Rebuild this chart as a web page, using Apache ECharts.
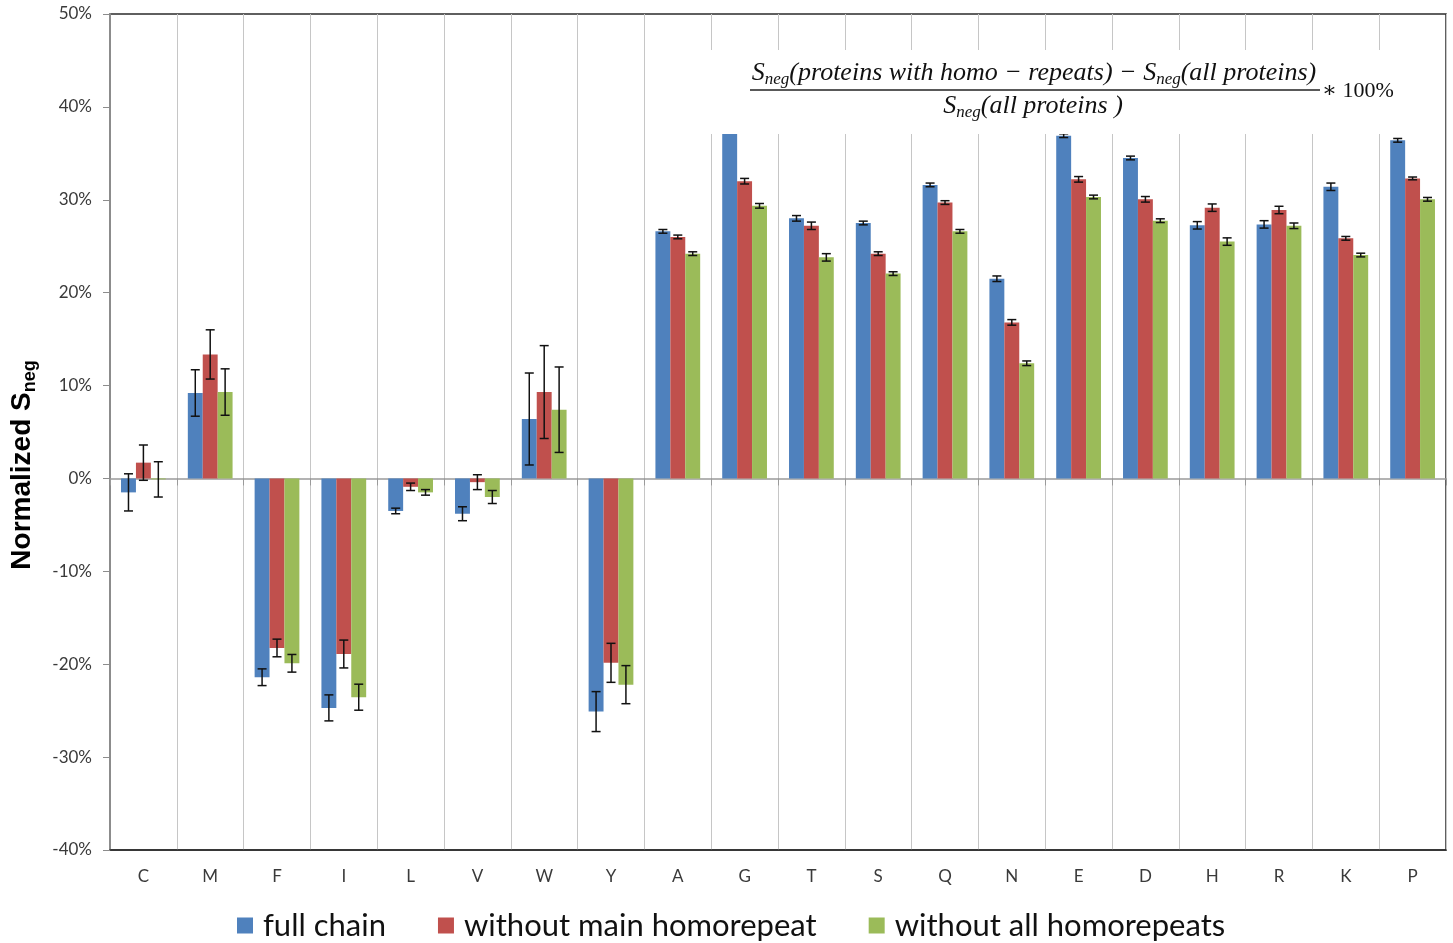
<!DOCTYPE html>
<html>
<head>
<meta charset="utf-8">
<title>Normalized Sneg by amino acid</title>
<script src="https://cdn.jsdelivr.net/npm/echarts@6/dist/echarts.min.js"></script>
<style>
  html, body { margin: 0; padding: 0; background: #fff; }
  #chart { width: 1453px; height: 943px; }
</style>
</head>
<body>
<div id="chart"></div>
<script>
// Amino acids along the x axis
const categories = ['C', 'M', 'F', 'I', 'L', 'V', 'W', 'Y', 'A', 'G', 'T', 'S', 'Q', 'N', 'E', 'D', 'H', 'R', 'K', 'P'];

// Normalized Sneg (%) per amino acid
const fullChain      = [-1.5, 9.2, -21.4, -24.7, -3.5, -3.8, 6.4, -25.1, 26.6, 37.5, 28.0, 27.5, 31.6, 21.5, 36.9, 34.5, 27.25, 27.35, 31.4, 36.4];
const withoutMain    = [1.7, 13.35, -18.25, -18.9, -0.9, -0.4, 9.3, -19.85, 26.0, 32.0, 27.2, 24.2, 29.7, 16.8, 32.2, 30.05, 29.15, 28.9, 25.85, 32.3];
const withoutAll     = [-0.1, 9.3, -19.9, -23.55, -1.5, -2.0, 7.4, -22.2, 24.2, 29.35, 23.8, 22.05, 26.6, 12.4, 30.3, 27.75, 25.5, 27.2, 24.05, 30.05];

// Half-length of the error bars (%)
const fullChainErr   = [2.0, 2.5, 0.9, 1.4, 0.3, 0.75, 4.95, 2.15, 0.2, 0.3, 0.3, 0.2, 0.2, 0.3, 0.2, 0.2, 0.4, 0.4, 0.4, 0.2];
const withoutMainErr = [1.9, 2.65, 0.95, 1.5, 0.4, 0.8, 5.0, 2.1, 0.2, 0.3, 0.4, 0.2, 0.2, 0.3, 0.3, 0.3, 0.4, 0.4, 0.2, 0.15];
const withoutAllErr  = [1.9, 2.5, 0.95, 1.4, 0.3, 0.7, 4.6, 2.05, 0.2, 0.25, 0.4, 0.2, 0.2, 0.25, 0.2, 0.2, 0.4, 0.3, 0.2, 0.2];

// Y axis range and tick step (%)
const yMin = -40, yMax = 50, yStep = 10;

const seriesNames = ['full chain', 'without main homorepeat', 'without all homorepeats'];
const seriesColors = ['#4F81BD', '#C0504D', '#9BBB59'];
const BAR_CATEGORY_GAP = 0.33;

const chart = echarts.init(document.getElementById('chart'), null, { renderer: 'canvas' });

// Error bar drawn on top of bar number `slot` (0,1,2) inside each category group
function errorBarRenderer(slot) {
  return function (params, api) {
    const idx = api.value(0);
    const v = api.value(1);
    const e = api.value(2);
    const band = api.size([1, 0])[0];
    const barW = band * (1 - BAR_CATEGORY_GAP) / 3;
    const cx = api.coord([idx, v])[0] + (slot - 1) * barW;
    const yTop = api.coord([idx, v + e])[1];
    const yBot = api.coord([idx, v - e])[1];
    const half = 4.5;
    const st = { stroke: '#111', lineWidth: 1.5 };
    return {
      type: 'group',
      children: [
        { type: 'line', shape: { x1: cx, y1: yTop, x2: cx, y2: yBot }, style: st },
        { type: 'line', shape: { x1: cx - half, y1: yTop, x2: cx + half, y2: yTop }, style: st },
        { type: 'line', shape: { x1: cx - half, y1: yBot, x2: cx + half, y2: yBot }, style: st }
      ]
    };
  };
}

const values = [fullChain, withoutMain, withoutAll];
const errors = [fullChainErr, withoutMainErr, withoutAllErr];

const barSeries = values.map((vals, i) => ({
  name: seriesNames[i],
  type: 'bar',
  xAxisIndex: 0,
  yAxisIndex: 0,
  data: vals,
  barGap: '0%',
  barCategoryGap: (BAR_CATEGORY_GAP * 100) + '%',
  itemStyle: { color: seriesColors[i] },
  z: 2
}));

const errSeries = values.map((vals, i) => ({
  name: seriesNames[i] + ' error',
  type: 'custom',
  xAxisIndex: 0,
  yAxisIndex: 0,
  renderItem: errorBarRenderer(i),
  encode: { x: 0, y: 1 },
  data: vals.map((v, k) => [k, v, errors[i][k]]),
  z: 5,
  silent: true
}));

const labelFont = 'Lato, "Open Sans", sans-serif';
const mathFont = '"Liberation Serif", "DejaVu Serif", serif';

const mathRich = {
  s: { fontFamily: mathFont, fontStyle: 'italic', fontSize: 26, fill: '#111', lineHeight: 30 },
  t: { fontFamily: mathFont, fontStyle: 'italic', fontSize: 26, fill: '#111', lineHeight: 30 },
  u: { fontFamily: mathFont, fontStyle: 'italic', fontSize: 17, fill: '#111', lineHeight: 16, verticalAlign: 'bottom' }
};

const option = {
  backgroundColor: '#ffffff',
  animation: false,
  grid: {
    left: 110, right: 7, top: 14, bottom: 93,
    outerBoundsMode: 'none',
    containLabel: false,
    show: true,
    borderColor: '#2b2b2b',
    borderWidth: 1.5,
    backgroundColor: 'transparent'
  },
  legend: {
    data: seriesNames,
    left: 237,
    top: 910,
    padding: 0,
    icon: 'rect',
    itemWidth: 16,
    itemHeight: 16,
    itemGap: 52,
    textStyle: { fontFamily: labelFont, fontSize: 31, color: '#111', padding: [0, 0, 0, 5] }
  },
  xAxis: [
    {
      type: 'category',
      data: categories,
      position: 'bottom',
      axisLine: { onZero: false, lineStyle: { color: '#2b2b2b', width: 1.5 } },
      axisTick: { show: false },
      axisLabel: { fontFamily: labelFont, fontSize: 17, color: '#3a3a3a', margin: 18 },
      splitLine: { show: true, lineStyle: { color: '#c6c6c6', width: 1 } }
    },
    {
      // zero baseline with short downward ticks at the category boundaries
      type: 'category',
      data: categories,
      position: 'bottom',
      axisLine: { onZero: true, lineStyle: { color: '#9a9a9a', width: 1.5 } },
      axisTick: { show: true, length: 7, lineStyle: { color: '#9a9a9a' } },
      axisLabel: { show: false },
      splitLine: { show: false }
    }
  ],
  yAxis: {
    type: 'value',
    min: yMin,
    max: yMax,
    interval: yStep,
    name: '{a|Normalized S}{b|neg}',
    nameLocation: 'middle',
    nameRotate: 90,
    nameGap: 71,
    nameTextStyle: {
      padding: [0, 66, 0, 0],
      rich: {
        a: { fontFamily: '"Liberation Sans", Arial, sans-serif', fontWeight: 'bold', fontSize: 28, color: '#000', lineHeight: 34 },
        b: { fontFamily: '"Liberation Sans", Arial, sans-serif', fontWeight: 'bold', fontSize: 18, color: '#000', lineHeight: 22, verticalAlign: 'bottom' }
      }
    },
    axisLine: { show: true, lineStyle: { color: '#8c8c8c', width: 2 } },
    axisTick: { show: true, length: 7, lineStyle: { color: '#8c8c8c' } },
    axisLabel: { fontFamily: labelFont, fontSize: 17, color: '#3a3a3a', margin: 18, formatter: '{value}%' },
    splitLine: { show: false }
  },
  graphic: [
    {
      // white panel behind the formula
      type: 'rect',
      z: 100,
      shape: { x: 700, y: 50, width: 738, height: 84 },
      style: { fill: '#ffffff' },
      silent: true
    },
    {
      type: 'text',
      z: 101,
      x: 1034, y: 73,
      style: {
        text: '{s|S}{u|neg}{t|(proteins with homo − repeats) − }{s|S}{u|neg}{t|(all proteins)}',
        align: 'center',
        verticalAlign: 'middle',
        rich: mathRich
      }
    },
    {
      type: 'line',
      z: 101,
      shape: { x1: 750, y1: 90, x2: 1320, y2: 90 },
      style: { stroke: '#222', lineWidth: 1.5 }
    },
    {
      type: 'text',
      z: 101,
      x: 1033, y: 106,
      style: {
        text: '{s|S}{u|neg}{t|(all proteins )}',
        align: 'center',
        verticalAlign: 'middle',
        rich: mathRich
      }
    },
    {
      type: 'text',
      z: 101,
      x: 1322, y: 91,
      style: {
        text: '∗ 100%',
        align: 'left',
        verticalAlign: 'middle',
        fontFamily: mathFont,
        fontSize: 22,
        fill: '#111'
      }
    }
  ],
  series: barSeries.concat(errSeries)
};

chart.setOption(option);
</script>
</body>
</html>
